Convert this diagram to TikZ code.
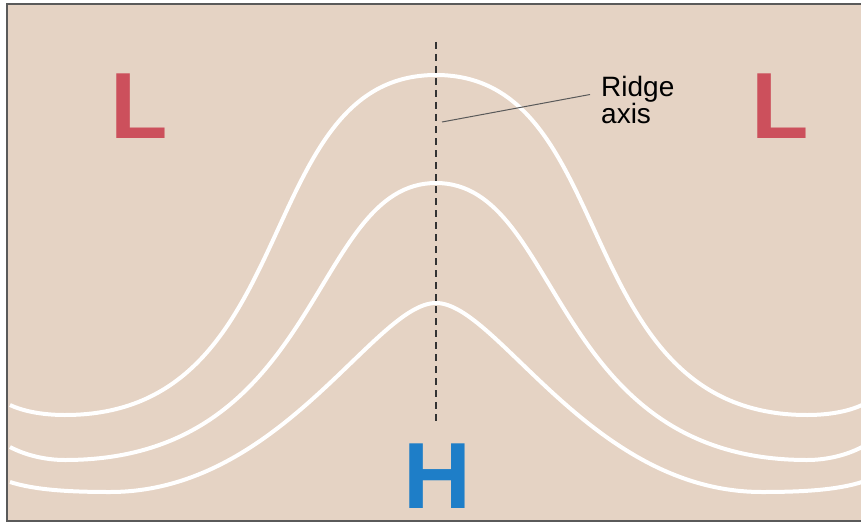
\documentclass[tikz,border=0pt]{standalone}
\usepackage{fontspec}
\setmainfont{Liberation Sans}
\usetikzlibrary{calc}

\definecolor{mapbg}{RGB}{229,211,196}
\definecolor{lowred}{RGB}{204,80,92}
\definecolor{highblue}{RGB}{30,126,200}
\definecolor{framegray}{RGB}{90,90,90}

\begin{document}
\begin{tikzpicture}[x=1pt, y=-1pt,
	isoline/.style={white, line width=4pt},
	axisline/.style={black!80, line width=1.5pt, dash pattern=on 7pt off 5pt},
	leader/.style={black!65, line width=1pt},
	pressure/.style={inner sep=0pt, anchor=base, font=\fontsize{94}{94}\selectfont\bfseries}]

	\useasboundingbox (0,0) rectangle (861,524);

	% ============ MAP BACKGROUND ============

	\fill[mapbg] (7,4) rectangle (861,521);
	\draw[framegray, line width=2pt] (861,4) -- (7,4) -- (7,521) -- (861,521);

	% ============ ISOLINES (left half, mirrored about the axis) ============

	\foreach \flip in {1,-1} {
		\begin{scope}[shift={(436,0)}, xscale=\flip, shift={(-436,0)}]
			% outer
			\draw[isoline] (10,405) .. controls (25,412) and (45,415) .. (65,415)
				.. controls (305,415) and (250,75) .. (436,75);
			% middle
			\draw[isoline] (10,447) .. controls (25,455) and (45,460) .. (65,460)
				.. controls (323,460) and (310,183) .. (436,183);
			% inner
			\draw[isoline] (10,482) .. controls (35,490) and (70,492) .. (110,492)
				.. controls (281,492) and (375,303) .. (436,303);
		\end{scope}
	}

	% ============ RIDGE AXIS ============

	\coordinate (axtop) at (436,42);
	\coordinate (axbot) at (436,422);
	\coordinate (axmark) at (442,122);
	\draw[axisline] (axtop) -- (axbot);

	\node[anchor=north west, inner sep=0pt, align=left,
		font=\fontsize{28}{26.6}\selectfont] (ridgelabel) at (601,76.5) {Ridge\\axis};
	\coordinate (leadend) at ($(ridgelabel.north west)+(-11,18)$);
	\draw[leader] (axmark) -- (leadend);

	% ============ PRESSURE CENTRES ============

	\node[pressure, lowred] (lowW) at (139,139) {L};
	\node[pressure, lowred] (lowE) at (780,139) {L};
	\node[pressure, highblue] (highS) at (437,508) {H};

\end{tikzpicture}
\end{document}
